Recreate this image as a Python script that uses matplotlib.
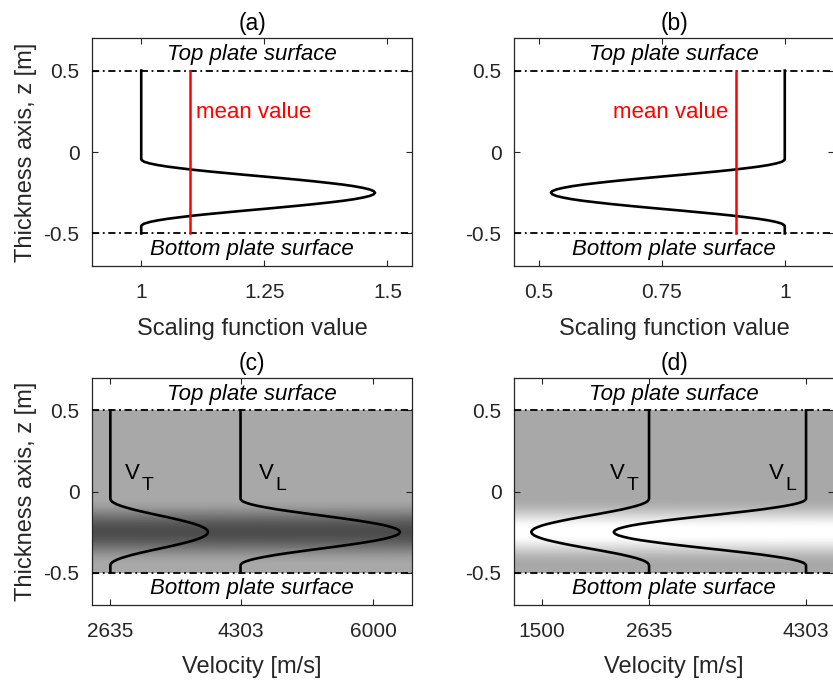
import matplotlib
matplotlib.use("Agg")
import matplotlib.pyplot as plt
import numpy as np

plt.rcParams['font.family'] = ['Liberation Sans', 'DejaVu Sans']
plt.rcParams['axes.unicode_minus'] = False

# ---- data ----
z_profile = [0.5, -0.045, -0.05, -0.06, -0.07, -0.08, -0.09, -0.10, -0.11, -0.12,
             -0.13, -0.14, -0.15, -0.16, -0.17, -0.18, -0.19, -0.20, -0.21, -0.22,
             -0.23, -0.24, -0.25, -0.26, -0.27, -0.28, -0.29, -0.30, -0.31, -0.32,
             -0.33, -0.34, -0.35, -0.36, -0.37, -0.38, -0.39, -0.40, -0.41, -0.42,
             -0.43, -0.44, -0.45, -0.455, -0.5]
scale_up = [1.000, 1.000, 1.001, 1.006, 1.017, 1.033, 1.054, 1.080, 1.108, 1.140,
            1.175, 1.210, 1.247, 1.283, 1.318, 1.351, 1.381, 1.409, 1.432, 1.450,
            1.464, 1.472, 1.475, 1.472, 1.464, 1.450, 1.432, 1.409, 1.381, 1.351,
            1.318, 1.283, 1.247, 1.210, 1.175, 1.140, 1.108, 1.080, 1.054, 1.033,
            1.017, 1.006, 1.001, 1.000, 1.000]
scale_down = [1.000, 1.000, 0.999, 0.994, 0.983, 0.967, 0.946, 0.920, 0.892, 0.860,
              0.825, 0.790, 0.753, 0.717, 0.682, 0.649, 0.619, 0.591, 0.568, 0.550,
              0.536, 0.528, 0.525, 0.528, 0.536, 0.550, 0.568, 0.591, 0.619, 0.649,
              0.682, 0.717, 0.753, 0.790, 0.825, 0.860, 0.892, 0.920, 0.946, 0.967,
              0.983, 0.994, 0.999, 1.000, 1.000]
mean_up = 1.1
mean_down = 0.9
vt_base = 2635
vl_base = 4303
plate_top = 0.5
plate_bottom = -0.5

xticks_a = [1, 1.25, 1.5]
xticks_b = [0.5, 0.75, 1]
xticks_c = [2635, 4303, 6000]
xticks_d = [1500, 2635, 4303]
yticks = [-0.5, 0, 0.5]
ytick_labels = ['-0.5', '0', '0.5']

titles = ['(a)', '(b)', '(c)', '(d)']

z_arr = np.array(z_profile)
s_up = np.array(scale_up)
s_down = np.array(scale_down)

W, H = 833, 684
fig = plt.figure(figsize=(W / 100, H / 100), dpi=100)

def make_ax(left_px, top_px, bottom_px, width_px=320):
    return fig.add_axes([left_px / W, 1 - bottom_px / H, width_px / W, (bottom_px - top_px) / H])

ax_a = make_ax(92, 38, 266)
ax_b = make_ax(514, 38, 266)
ax_c = make_ax(92, 378, 605)
ax_d = make_ax(514, 378, 605)

axis_col = '#262626'
tick_fs = 15
label_fs = 17
surf_fs = 16

def style(ax, xlim, xt, title, ylabel):
    ax.set_xlim(*xlim)
    ax.set_ylim(-0.7, 0.7)
    ax.set_xticks(xt)
    ax.set_xticklabels([('%g' % v) for v in xt])
    ax.set_yticks(yticks)
    ax.set_yticklabels(ytick_labels)
    ax.tick_params(direction='in', top=True, right=True, length=4, width=0.8,
                   labelsize=tick_fs, colors=axis_col)
    ax.tick_params(axis='x', pad=12)
    ax.tick_params(axis='y', pad=9)
    for sp in ax.spines.values():
        sp.set_color(axis_col)
        sp.set_linewidth(0.9)
    ax.set_title(title, fontsize=16.5, pad=6, color='black')
    if ylabel:
        ax.set_ylabel('Thickness axis, z [m]', fontsize=label_fs, color=axis_col)
        ax.yaxis.set_label_coords(-0.172, 0.5)
    ax.text(0.5, 0.6, 'Top plate surface', transform=ax.get_yaxis_transform(),
            ha='center', va='center', style='italic', fontsize=surf_fs)
    ax.text(0.5, -0.6, 'Bottom plate surface', transform=ax.get_yaxis_transform(),
            ha='center', va='center', style='italic', fontsize=surf_fs)

def plates(ax, xlim):
    for zz in (plate_top, plate_bottom):
        ax.plot(xlim, [zz, zz], color='black', lw=1.3, linestyle=(0, (4, 2, 1, 2)), zorder=4)

def shade(ax, xlim, s):
    X = np.tile(np.array(xlim, dtype=float), (len(z_arr), 1))
    Z = np.column_stack([z_arr, z_arr])
    C = np.column_stack([s, s])
    ax.pcolormesh(X, Z, C, shading='gouraud', cmap='gray_r', vmin=0.551, vmax=1.87, zorder=1)

def vlabel(ax, x, sub):
    ax.text(x, 0.075, 'V', fontsize=surf_fs, ha='left', va='baseline', zorder=6)
    ax.annotate(sub, xy=(x, 0.075), xytext=(12, -7.5), textcoords='offset points',
                fontsize=14, ha='left', va='baseline', zorder=6)

lw_curve = 1.9

# (a)
xa = (0.9, 1.55)
style(ax_a, xa, xticks_a, titles[0], True)
ax_a.plot(s_up, z_arr, color='black', lw=lw_curve, zorder=3)
ax_a.plot([mean_up, mean_up], [plate_bottom, plate_top], color='#ff0000', lw=1.8, zorder=5)
plates(ax_a, xa)
ax_a.text(1.111, 0.24, 'mean value', color='#ff0000', fontsize=surf_fs, ha='left', va='center')
ax_a.set_xlabel('Scaling function value', fontsize=label_fs, color=axis_col)
ax_a.xaxis.set_label_coords(0.5, -0.23)

# (b)
xb = (0.45, 1.1)
style(ax_b, xb, xticks_b, titles[1], False)
ax_b.plot(s_down, z_arr, color='black', lw=lw_curve, zorder=3)
ax_b.plot([mean_down, mean_down], [plate_bottom, plate_top], color='#ff0000', lw=1.8, zorder=5)
plates(ax_b, xb)
ax_b.text(0.886, 0.24, 'mean value', color='#ff0000', fontsize=surf_fs, ha='right', va='center')
ax_b.set_xlabel('Scaling function value', fontsize=label_fs, color=axis_col)
ax_b.xaxis.set_label_coords(0.5, -0.23)

# (c)
xc = (2400, 6500)
style(ax_c, xc, xticks_c, titles[2], True)
shade(ax_c, xc, s_up)
ax_c.plot(vt_base * s_up, z_arr, color='black', lw=lw_curve, zorder=3)
ax_c.plot(vl_base * s_up, z_arr, color='black', lw=lw_curve, zorder=3)
plates(ax_c, xc)
vlabel(ax_c, 2826, 'T')
vlabel(ax_c, 4533, 'L')
ax_c.set_xlabel('Velocity [m/s]', fontsize=label_fs, color=axis_col)
ax_c.xaxis.set_label_coords(0.5, -0.225)

# (d)
xd = (1200, 4600)
style(ax_d, xd, xticks_d, titles[3], False)
shade(ax_d, xd, s_down)
ax_d.plot(vt_base * s_down, z_arr, color='black', lw=lw_curve, zorder=3)
ax_d.plot(vl_base * s_down, z_arr, color='black', lw=lw_curve, zorder=3)
plates(ax_d, xd)
vlabel(ax_d, 2216, 'T')
vlabel(ax_d, 3906, 'L')
ax_d.set_xlabel('Velocity [m/s]', fontsize=label_fs, color=axis_col)
ax_d.xaxis.set_label_coords(0.5, -0.225)

fig.savefig('out.png', dpi=100)
